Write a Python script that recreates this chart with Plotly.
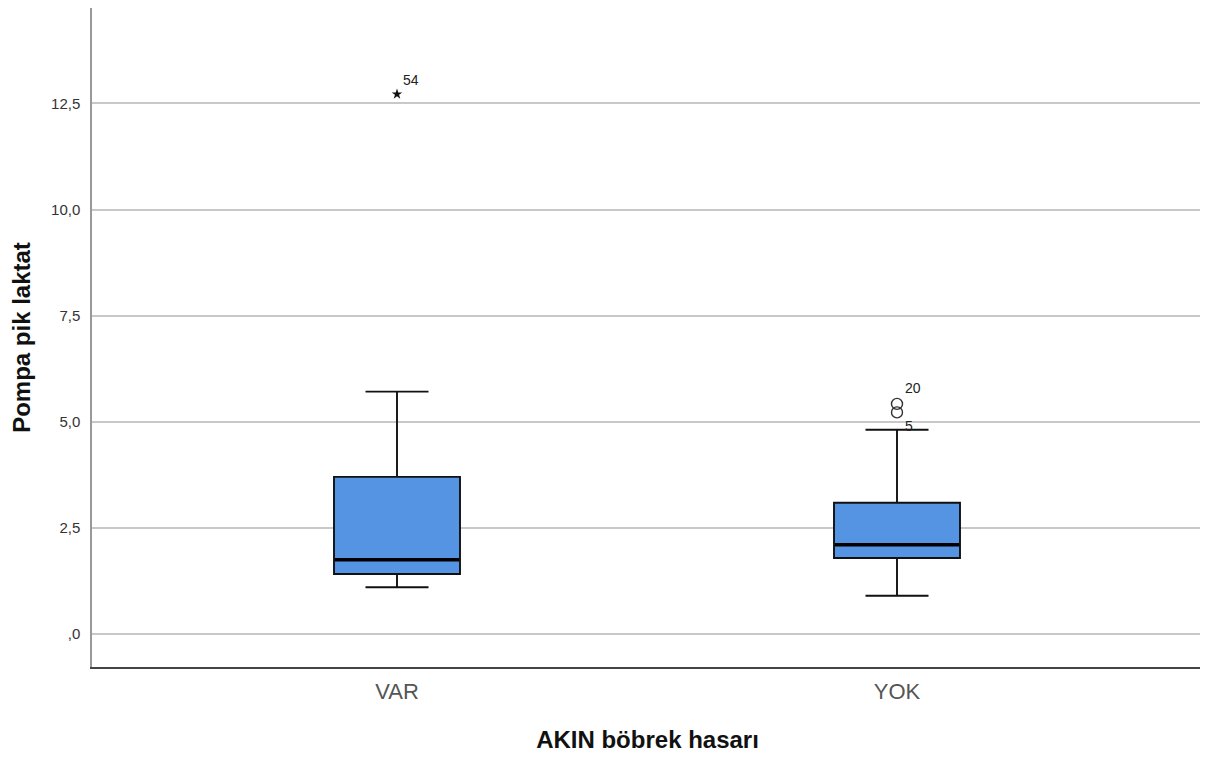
import plotly.graph_objects as go

categories = ["VAR", "YOK"]
q1 = [1.41, 1.79]
median = [1.75, 2.10]
q3 = [3.70, 3.09]
lower_whisker = [1.10, 0.90]
upper_whisker = [5.71, 4.81]

extreme_x = ["VAR"]
extreme_y = [12.72]
extreme_label = ["54"]

outlier_x = ["YOK", "YOK"]
outlier_y = [5.42, 5.22]
outlier_label = ["20", "5"]
outlier_textpos = ["top right", "bottom right"]

y_tickvals = [0, 2.5, 5.0, 7.5, 10.0, 12.5]
y_ticktext = [",0", "2,5", "5,0", "7,5", "10,0", "12,5"]

FONT = "Liberation Sans, Arial, sans-serif"

fig = go.Figure()

fig.add_trace(go.Box(
    x=categories, q1=q1, median=median, q3=q3,
    lowerfence=lower_whisker, upperfence=upper_whisker,
    fillcolor="#5594e3", line=dict(color="#111111", width=1.9),
    width=0.252, whiskerwidth=0.5, boxpoints=False, showlegend=False,
    hoverinfo="skip",
))
# thick median lines
fig.add_trace(go.Box(
    x=categories, q1=median, median=median, q3=median,
    lowerfence=median, upperfence=median,
    fillcolor="rgba(0,0,0,0)", line=dict(color="#000000", width=3.5),
    width=0.248, whiskerwidth=0, boxpoints=False, showlegend=False,
    hoverinfo="skip",
))

fig.add_trace(go.Scatter(
    x=extreme_x, y=extreme_y, mode="markers+text", text=extreme_label,
    textposition="top right",
    textfont=dict(family=FONT, size=14, color="#222222"),
    marker=dict(symbol="star", size=8, color="#111111"),
    showlegend=False, cliponaxis=False,
))
fig.add_trace(go.Scatter(
    x=outlier_x, y=outlier_y, mode="markers+text", text=outlier_label,
    textposition=outlier_textpos,
    textfont=dict(family=FONT, size=14, color="#222222"),
    marker=dict(symbol="circle-open", size=11, color="#333333", line=dict(width=1.4)),
    showlegend=False, cliponaxis=False,
))

fig.update_layout(
    width=1200, height=749,
    margin=dict(l=84, r=5, t=0, b=90),
    paper_bgcolor="white", plot_bgcolor="white",
    font=dict(family=FONT, color="#222222"),
    xaxis=dict(
        type="category", range=[-0.61, 1.612],
        showgrid=False, zeroline=False,
        showline=True, linecolor="#444444", linewidth=1.5,
        ticks="", tickfont=dict(size=22, color="#555555"),
        ticklabelstandoff=4,
        title=dict(text="<b>AKIN böbrek hasarı</b>", font=dict(size=24, color="#111111"), standoff=28),
    ),
    yaxis=dict(
        range=[-0.78, 14.75],
        tickvals=y_tickvals, ticktext=y_ticktext,
        showgrid=True, gridcolor="#c8c8c8", gridwidth=1.5,
        zeroline=False,
        showline=True, linecolor="#999999", linewidth=1.5,
        ticks="", tickfont=dict(size=15, color="#333333"),
        ticklabelstandoff=7,
        title=dict(text="<b>Pompa pik laktat</b>", font=dict(size=24, color="#111111"), standoff=16),
    ),
)

fig.write_html("out.html")
